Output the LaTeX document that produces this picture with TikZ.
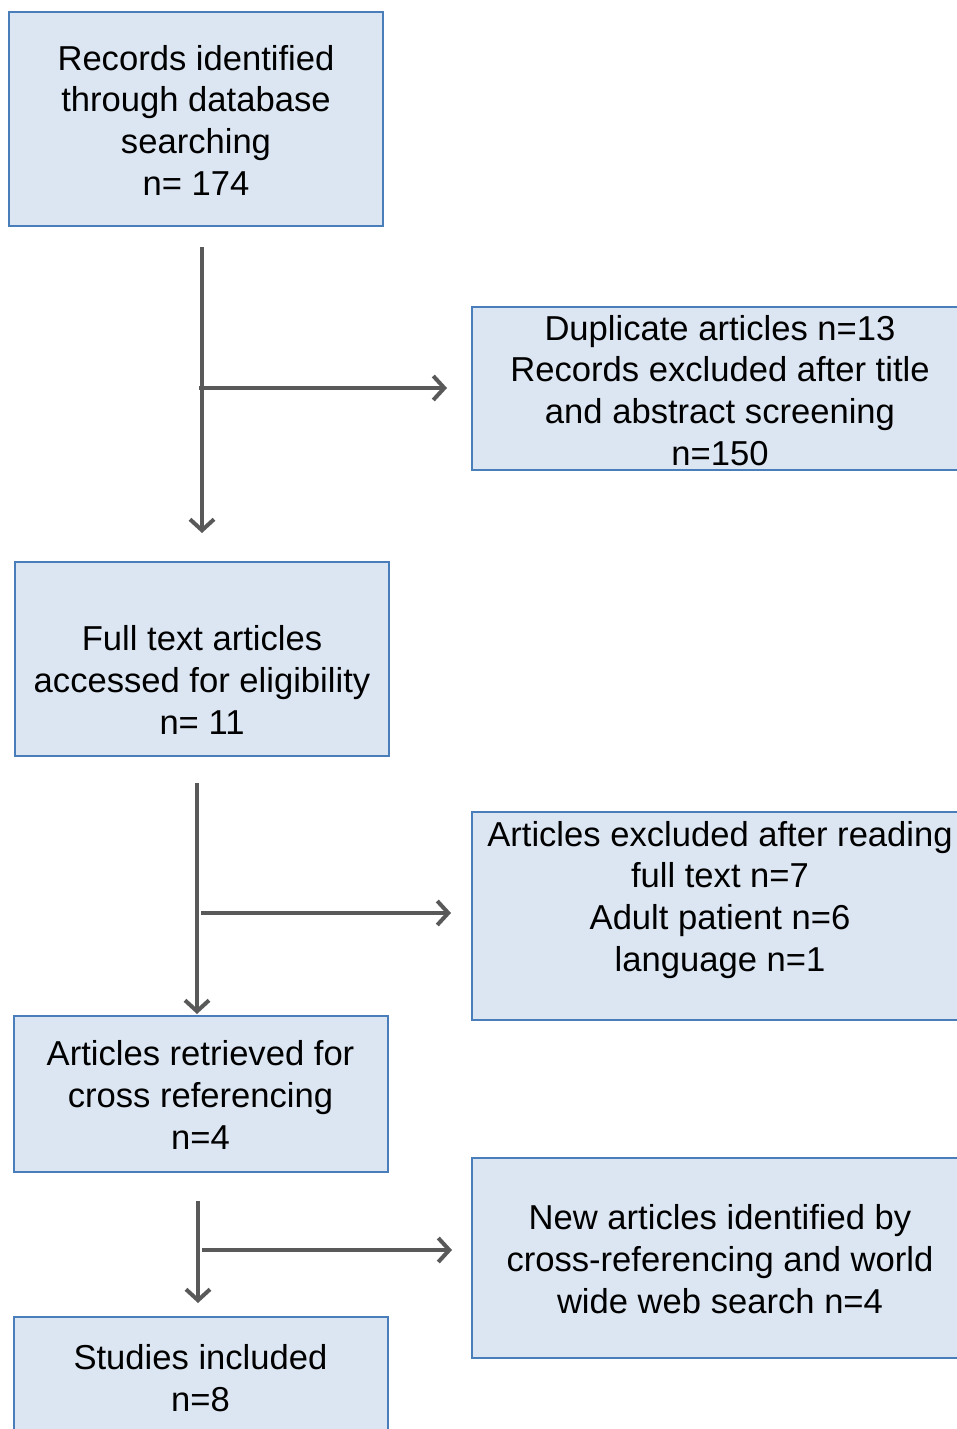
\documentclass[tikz,border=0pt]{standalone}
\usepackage{fontspec}
\setmainfont{Liberation Sans}
\usetikzlibrary{arrows.meta}

\definecolor{boxfill}{RGB}{220,230,242}
\definecolor{boxline}{RGB}{74,126,187}
\definecolor{arrowgray}{RGB}{89,89,89}

\tikzset{
	box/.style={draw=boxline, line width=2pt, fill=boxfill, align=center, anchor=north,
		inner ysep=0pt, font=\fontsize{34.6}{41.6}\selectfont},
	leftbox/.style={box, minimum width=374pt},
	rightbox/.style={box, minimum width=496pt},
	flow/.style={draw=arrowgray, line width=4pt, -{Straight Barb[length=11pt,width=24pt]}}
}

\begin{document}
\begin{tikzpicture}[x=1pt, y=-1pt]
			\useasboundingbox (0,0) rectangle (957,1429);
			\clip (0,0) rectangle (957,1429);
			
			% Левая колонка
			\node[leftbox, text height=183pt, text depth=31pt] (records) at (196,11)
				{Records identified\\through database\\searching\\n= 174};
			\node[leftbox, text height=172pt, text depth=22pt] (fulltext) at (202,561)
				{Full text articles\\accessed for eligibility\\n= 11};
			\node[leftbox, text height=133pt, text depth=23pt] (retrieved) at (200.5,1015)
				{Articles retrieved for\\cross referencing\\n=4};
			\node[leftbox, text height=94pt, text depth=30pt] (included) at (200.5,1316)
				{Studies included\\n=8};
			
			% Правая колонка
			\node[rightbox, text height=158pt, text depth=5pt] (duplicate) at (720,306)
				{Duplicate articles n=13\\Records excluded after title\\and abstract screening\\n=150};
			\node[rightbox, text height=159pt, text depth=49pt] (excluded) at (720,811)
				{Articles excluded after reading\\full text n=7\\Adult patient n=6\\language n=1};
			\node[rightbox, text height=155pt, text depth=45pt] (newart) at (720,1157)
				{New articles identified by\\cross-referencing and world\\wide web search n=4};
			
			% Точки ветвления
			\coordinate (stemA) at (202,247);
			\coordinate (forkA) at (199,388);
			\coordinate (stemB) at (197,783);
			\coordinate (forkB) at (201,913);
			\coordinate (stemC) at (198,1201);
			\coordinate (forkC) at (202,1250);
			
			% Стрелки
			\draw[flow, shorten >=28pt] (stemA) -- (stemA |- fulltext.north);
			\draw[flow, shorten >=24pt] (forkA) -- (forkA -| duplicate.west);
			\draw[flow, shorten >=1pt] (stemB) -- (stemB |- retrieved.north);
			\draw[flow, shorten >=20pt] (forkB) -- (forkB -| excluded.west);
			\draw[flow, shorten >=13pt] (stemC) -- (stemC |- included.north);
			\draw[flow, shorten >=19pt] (forkC) -- (forkC -| newart.west);
		\end{tikzpicture}
\end{document}
